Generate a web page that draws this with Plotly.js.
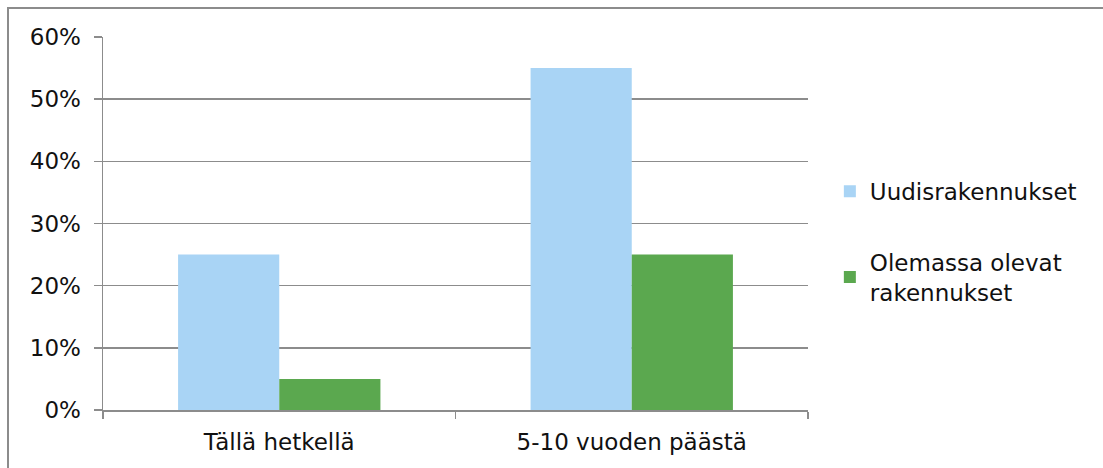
<!DOCTYPE html>
<html><head><meta charset="utf-8">
<script src="https://cdn.plot.ly/plotly-3.0.1.min.js"></script>
<style>html,body{margin:0;padding:0;background:#fff;}#chart{width:1103px;height:468px;}</style>
</head><body><div id="chart"></div>
<script>
const categories = ["Tällä hetkellä", "5-10 vuoden päästä"];
const seriesNames = ["Uudisrakennukset", "Olemassa olevat<br>rakennukset"];
const uudis = [0.25, 0.55];
const olemassa = [0.05, 0.25];
const yTicks = [0, 0.1, 0.2, 0.3, 0.4, 0.5, 0.6];

const font = {family: "DejaVu Sans, Verdana, sans-serif", size: 23, color: "#111"};
const grid = "#8c8c8c";

const traces = [
  {type: "bar", x: categories, y: uudis, name: seriesNames[0], legendgroup: "a",
   marker: {color: "#a9d4f5"}, hoverinfo: "none"},
  {type: "bar", x: categories, y: olemassa, name: seriesNames[1], legendgroup: "b",
   marker: {color: "#5ba84f"}, hoverinfo: "none"}
];

const layout = {
  width: 1103, height: 468,
  margin: {l: 103, r: 295, t: 37, b: 58},
  paper_bgcolor: "#fff", plot_bgcolor: "#fff",
  font: font,
  barmode: "group", bargap: 0.426, bargroupgap: 0,
  showlegend: true,
  legend: {x: 1.031, xanchor: "left", y: 0.451, yanchor: "middle", font: font,
           tracegroupgap: 38, itemwidth: 30, traceorder: "grouped"},
  xaxis: {type: "category", showline: true, linecolor: grid, linewidth: 1.5,
          ticks: "outside", tickson: "boundaries", ticklen: 7, tickcolor: grid, tickwidth: 1.5,
          showgrid: false, tickfont: font, ticklabelstandoff: 11, fixedrange: true},
  yaxis: {range: [0, 0.6], tickvals: yTicks, tickformat: ".0%", showline: true, linecolor: grid, linewidth: 1.5,
          ticks: "outside", ticklen: 8, tickcolor: grid, tickwidth: 1.5,
          showgrid: true, gridcolor: grid, gridwidth: 1.5, zeroline: false, tickfont: font,
          ticklabelstandoff: 8, fixedrange: true},
  shapes: [{type: "rect", xref: "paper", yref: "paper",
            x0: (8 - 103) / 705, x1: 1.6, y0: -0.5, y1: (410 - 8) / 373,
            line: {color: "#8c8c8c", width: 2}, layer: "above"}]
};

Plotly.newPlot("chart", traces, layout, {staticPlot: true});
</script></body></html>
